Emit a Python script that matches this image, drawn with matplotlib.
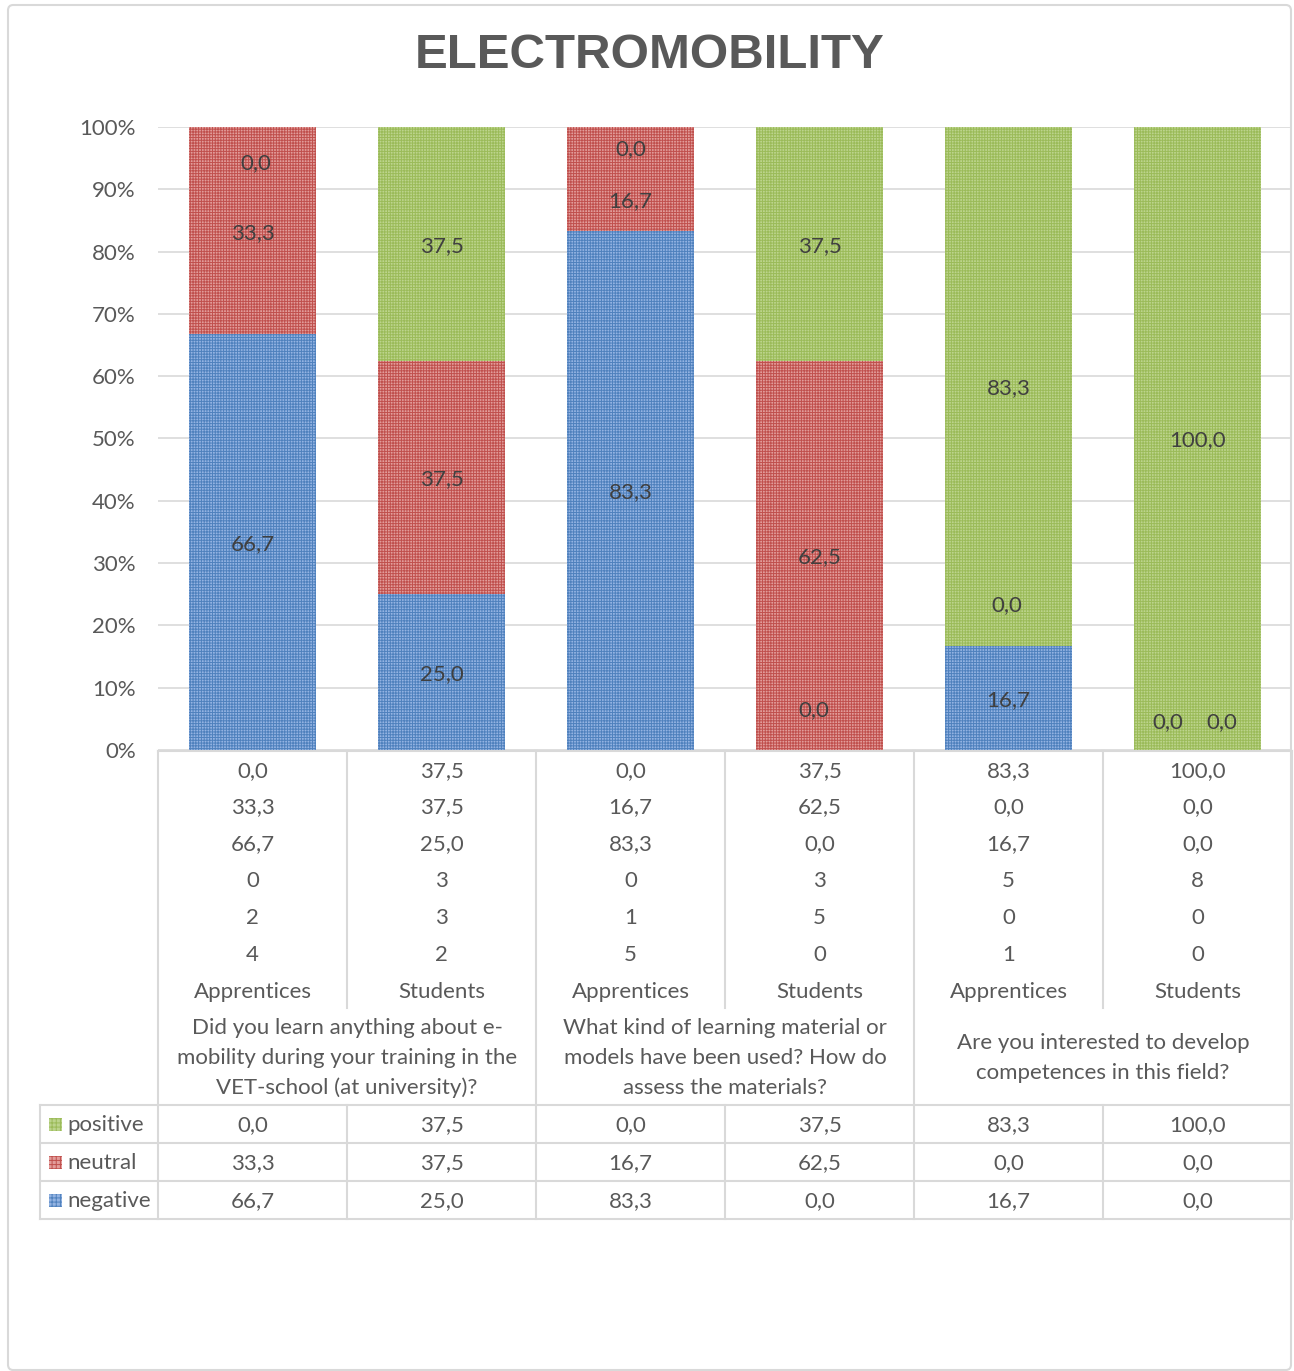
import matplotlib
matplotlib.use("Agg")
import matplotlib.pyplot as plt
from matplotlib.patches import Rectangle, FancyBboxPatch

# data
groups = ["Apprentices", "Students", "Apprentices", "Students", "Apprentices", "Students"]
questions = [
    "Did you learn anything about e-\nmobility during your training in the\nVET-school (at university)?",
    "What kind of learning material or\nmodels have been used? How do\nassess the materials?",
    "Are you interested to develop\ncompetences in this field?",
]
series = ["positive", "neutral", "negative"]
positive = [0.0, 37.5, 0.0, 37.5, 83.3, 100.0]
neutral = [33.3, 37.5, 16.7, 62.5, 0.0, 0.0]
negative = [66.7, 25.0, 83.3, 0.0, 16.7, 0.0]
n_positive = [0, 3, 0, 3, 5, 8]
n_neutral = [2, 3, 1, 5, 0, 0]
n_negative = [4, 2, 5, 0, 1, 0]

fmt = lambda v: f"{v:.1f}".replace(".", ",")

W, H = 1294, 1371
fig = plt.figure(figsize=(W / 100, H / 100), dpi=100)
plt.rcParams["font.family"] = ["Lato", "DejaVu Sans"]
txt = "#404040"
tab_c = "#595959"
grid_c = "#d9d9d9"
fs = 16

# colours: light face + darker hatch grid
cols = {"positive": ("#bcd48c", "#9bbb59"),
        "neutral": ("#e29c9a", "#c0504d"),
        "negative": ("#93b3e2", "#4f81bd")}
plt.rcParams["hatch.linewidth"] = 0.7

# outer frame
frame = FancyBboxPatch((8 / W, 1 - 1370 / H), 1283 / W, 1365 / H,
                       boxstyle="round,pad=0,rounding_size=0.004",
                       transform=fig.transFigure, fc="none", ec=grid_c, lw=1.5, zorder=-1)
fig.patches.append(frame)

fig.text(650 / W, 1 - 56 / H, "ELECTROMOBILITY", ha="center", va="center",
         fontsize=35.5, fontweight="bold", color="#595959", family="Liberation Sans")

# main chart
x0, x1, ytop, ybot = 158, 1292, 127, 750
ax = fig.add_axes([x0 / W, 1 - ybot / H, (x1 - x0) / W, (ybot - ytop) / H])
ax.patch.set_alpha(0)
ax.set_xlim(-0.5, 5.5)
ax.set_ylim(0, 100)
for s in ax.spines.values():
    s.set_visible(False)
ax.set_yticks(range(0, 101, 10))
ax.set_yticklabels([f"{v}%" for v in range(0, 101, 10)], fontsize=fs, color=tab_c)
ax.tick_params(axis="y", length=0, pad=16)
ax.set_xticks([])
ax.grid(axis="y", color=grid_c, lw=1.2)
ax.set_axisbelow(True)

xs = list(range(len(groups)))
bw = 0.667
stack = [("negative", negative), ("neutral", neutral), ("positive", positive)]
bottom = [0.0] * len(xs)
centers = {}
for name, vals in stack:
    face, hatch = cols[name]
    ax.bar(xs, vals, bw, bottom=bottom, color=face, edgecolor=hatch, lw=0,
           hatch="++++++", zorder=2)
    for i, v in enumerate(vals):
        centers[(name, i)] = (xs[i], bottom[i] + v / 2, v)
    bottom = [b + v for b, v in zip(bottom, vals)]

# manual nudges for overlapping labels (dx in category units, y in %)
nudge = {("positive", 0): (0.015, 94.5), ("neutral", 2): (0, 88.4),
         ("positive", 2): (0, 96.8), ("negative", 3): (-0.03, 6.7),
         ("neutral", 4): (-0.01, 23.6), ("negative", 5): (-0.155, 4.7),
         ("neutral", 5): (0.13, 4.7)}
for key, (x, y, v) in centers.items():
    dx, yy = nudge.get(key, (0, y))
    ax.text(x + dx, yy - 0.3, fmt(v), ha="center", va="center", fontsize=fs,
            color=txt, zorder=3)

# table below
tx0, tbot = 40, 1222
ax_t = fig.add_axes([tx0 / W, 1 - tbot / H, (x1 - tx0) / W, (tbot - ybot) / H])
colw = (x1 - x0) / 6
ax_t.set_xlim(-0.5 - (x0 - tx0) / colw, 5.5)
ax_t.set_ylim(tbot, ybot)
ax_t.axis("off")
left_edge = -0.5 - (x0 - tx0) / colw

def hline(y, xa, xb):
    ax_t.plot([xa, xb], [y, y], color=grid_c, lw=1.5, clip_on=False)

def vline(x, ya, yb):
    ax_t.plot([x, x], [ya, yb], color=grid_c, lw=1.5, clip_on=False)

hline(751, -0.5, 5.5)
for y in (1105, 1143, 1181, 1219):
    hline(y, left_edge, 5.5)
for k in range(7):
    xb = k - 0.5
    if k in (0, 2, 4, 6):
        vline(xb, 751, 1219)
    else:
        vline(xb, 751, 1008)
        vline(xb, 1105, 1219)
vline(left_edge, 1105, 1219)

rows = [positive, neutral, negative, n_positive, n_neutral, n_negative]
row_y = [771, 807, 844, 881, 918, 955]
for r, yy in zip(rows, row_y):
    for i, v in enumerate(r):
        s = fmt(v) if isinstance(v, float) else str(v)
        ax_t.text(xs[i], yy, s, ha="center", va="center", fontsize=fs, color=tab_c)
for i, g in enumerate(groups):
    ax_t.text(xs[i], 992, g, ha="center", va="center", fontsize=fs, color=tab_c)
for q, text in enumerate(questions):
    ax_t.text(2 * q + 0.5, 1058, text, ha="center", va="center", fontsize=fs,
              color=tab_c, linespacing=1.6)

for name, vals, yy in zip(series, rows[:3], (1125, 1163, 1201)):
    face, hatch = cols[name]
    ax_t.add_patch(Rectangle((left_edge + 9 / colw, yy + 6), 13 / colw, -13,
                             fc=face, ec=hatch, lw=0, hatch="++++", clip_on=False))
    ax_t.text(left_edge + 27 / colw, yy, name, ha="left", va="center",
              fontsize=fs, color=tab_c)
    for i, v in enumerate(vals):
        ax_t.text(xs[i], yy, fmt(v), ha="center", va="center", fontsize=fs, color=tab_c)

fig.savefig("out.png", dpi=100)
